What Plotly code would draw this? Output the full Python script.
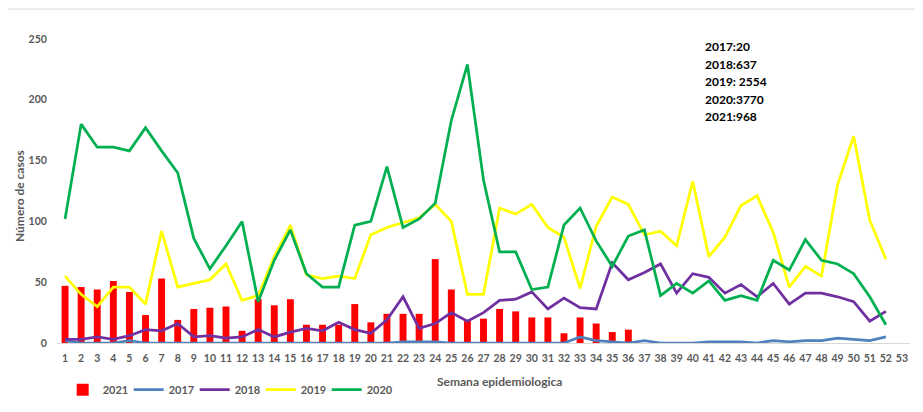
import plotly.graph_objects as go

weeks = list(range(1, 54))
week_labels = [str(w) for w in weeks]

cases_2021 = [47, 46, 44, 51, 42, 23, 53, 19, 28, 29, 30, 10, 36, 31, 36, 15, 15, 15,
              32, 17, 24, 24, 24, 69, 44, 18, 20, 28, 26, 21, 21, 8, 21, 16, 9, 11]
cases_2017 = [2, 0, 0, 0, 2, 0, 0, 0, 0, 0, 0, 0, 0, 0, 0, 0, 0, 0, 0, 0, 0, 1, 1, 1, 0, 0,
              0, 0, 0, 0, 0, 0, 5, 2, 1, 0, 2, 0, 0, 0, 1, 1, 1, 0, 2, 1, 2, 2, 4, 3, 2, 5]
cases_2018 = [3, 3, 5, 3, 6, 11, 10, 16, 5, 6, 4, 5, 11, 5, 9, 12, 10, 17, 11, 8, 19, 38,
              12, 16, 25, 18, 25, 35, 36, 42, 28, 37, 29, 28, 66, 52, 58, 65, 41, 57, 54,
              41, 48, 38, 49, 32, 41, 41, 38, 34, 18, 26]
cases_2019 = [55, 40, 30, 46, 46, 32, 92, 46, 49, 52, 65, 35, 39, 71, 97, 56, 53, 55, 53,
              89, 95, 99, 103, 114, 100, 40, 40, 111, 106, 114, 95, 87, 45, 96, 120, 114,
              89, 92, 80, 133, 71, 87, 113, 121, 91, 46, 63, 55, 130, 170, 101, 69]
cases_2020 = [102, 180, 161, 161, 158, 177, 158, 140, 86, 61, 80, 100, 34, 68, 93, 57, 46,
              46, 97, 100, 145, 95, 102, 115, 183, 229, 134, 75, 75, 44, 46, 97, 111, 84,
              63, 88, 93, 39, 49, 41, 51, 35, 39, 35, 68, 60, 85, 68, 65, 57, 38, 15]

totals_text = ["2017:20", "2018:637", "2019: 2554", "2020:3770", "2021:968"]

# page body has an 8px margin on every side; size the figure so the page fits the window
OFF = 8
W, H = 923 - 2 * OFF, 412 - 2 * OFF
PLOT_X0, PLOT_X1 = 57.3, 910.0     # screen px
PLOT_Y0, PLOT_Y1 = 39.0, 343.3     # screen px
L = PLOT_X0 - OFF
R = W - (PLOT_X1 - OFF)
T = PLOT_Y0 - OFF
B = H - (PLOT_Y1 - OFF)
pw, ph = W - L - R, H - T - B

def px_x(x):
    return (x - OFF - L) / pw

def px_y(y):
    return (H - B - (y - OFF)) / ph

FONT = "Lato"
GRAY = "#595959"

fig = go.Figure()
fig.add_trace(go.Bar(x=weeks[:len(cases_2021)], y=cases_2021, name="2021",
                     marker=dict(color="#FF0000", line=dict(width=0))))
line_specs = [("2017", cases_2017, "#4F81BD"), ("2018", cases_2018, "#7030A0"),
              ("2019", cases_2019, "#FFFF00"), ("2020", cases_2020, "#00B050")]
for name, vals, col in line_specs:
    fig.add_trace(go.Scatter(x=weeks[:len(vals)], y=vals, name=name, mode="lines",
                             line=dict(color=col, width=2.75)))

annotations = []
for i, t in enumerate(totals_text):
    annotations.append(dict(x=px_x(703), y=px_y(46.5 + i * 17.6), xref="paper", yref="paper",
                            text=t, showarrow=False, xanchor="left", yanchor="middle",
                            font=dict(family=FONT, size=12, color="#000000", weight="bold")))
annotations.append(dict(x=px_x(500), y=px_y(382), xref="paper", yref="paper",
                        text="Semana epidemiologica", showarrow=False,
                        xanchor="center", yanchor="middle",
                        font=dict(family=FONT, size=12, color=GRAY, weight="bold")))
annotations.append(dict(x=px_x(20.5), y=px_y(196), xref="paper", yref="paper",
                        text="Número de casos", showarrow=False, textangle=-90,
                        xanchor="center", yanchor="middle",
                        font=dict(family=FONT, size=12, color=GRAY, weight="bold")))

fig.update_layout(
    width=W, height=H,
    margin=dict(l=L, r=R, t=T, b=B, autoexpand=False),
    paper_bgcolor="white", plot_bgcolor="white",
    bargap=0.57,
    showlegend=True,
    legend=dict(orientation="h", x=px_x(63), y=px_y(390), xanchor="left", yanchor="middle",
                font=dict(family=FONT, size=11, color=GRAY, weight="bold"),
                entrywidth=21, entrywidthmode="pixels", itemwidth=30,
                bgcolor="rgba(0,0,0,0)", traceorder="normal"),
    annotations=annotations,
    shapes=[dict(type="rect", xref="paper", yref="paper", x0=px_x(-200), x1=px_x(1200),
                 y0=px_y(800), y1=px_y(9), line=dict(color="#D9D9D9", width=1),
                 fillcolor="rgba(0,0,0,0)", layer="below")],
)
fig.update_xaxes(range=[0.5, 53.5], tickmode="array", tickvals=weeks, ticktext=week_labels,
                 showgrid=False, zeroline=False, showline=True, linecolor="#D9D9D9",
                 linewidth=1, ticks="outside", ticklen=5, tickcolor="rgba(0,0,0,0)",
                 tickfont=dict(family=FONT, size=10.5, color=GRAY, weight="bold"))
fig.update_yaxes(range=[0, 250], tickvals=[0, 50, 100, 150, 200, 250], showgrid=False,
                 zeroline=False, showline=False, ticks="outside", ticklen=7,
                 tickcolor="rgba(0,0,0,0)",
                 tickfont=dict(family=FONT, size=10.5, color=GRAY, weight="bold"))

fig.write_html("out.html")
